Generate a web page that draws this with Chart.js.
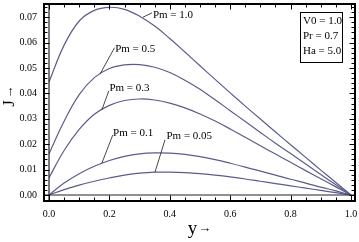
<!DOCTYPE html>
<html>
<head>
<meta charset="utf-8">
<script src="https://cdn.jsdelivr.net/npm/chart.js@4/dist/chart.umd.min.js"></script>
<style>
html,body{margin:0;padding:0;background:#fff;}
#wrap{width:359px;height:242px;}
</style>
</head>
<body>
<div id="wrap"><canvas id="c" width="359" height="242"></canvas></div>
<script>
// ---- data ----
const yPos = [0,0.05,0.1,0.15,0.2,0.25,0.3,0.35,0.4,0.45,0.5,0.55,0.6,0.65,0.7,0.75,0.8,0.85,0.9,0.95,1.0];
const J_Pm10  = [0.0445,0.0590,0.0685,0.0727,0.0739,0.0731,0.0704,0.0665,0.0616,0.0563,0.0509,0.0455,0.0402,0.0350,0.0299,0.0248,0.0198,0.0148,0.0098,0.0049,0];
const J_Pm05  = [0.0162,0.0290,0.0395,0.0462,0.0498,0.0512,0.0513,0.0503,0.0482,0.0452,0.0416,0.0375,0.0332,0.0289,0.0246,0.0204,0.0163,0.0122,0.0081,0.0040,0];
const J_Pm03  = [0.0068,0.0175,0.0258,0.0318,0.0353,0.0372,0.0378,0.0374,0.0362,0.0343,0.0319,0.0291,0.0260,0.0227,0.0194,0.0161,0.0129,0.0096,0.0064,0.0032,0];
const J_Pm01  = [0,0.0047,0.0084,0.0113,0.0136,0.0152,0.0162,0.0166,0.0165,0.0160,0.0151,0.0139,0.0125,0.0110,0.0094,0.0078,0.0062,0.0047,0.0031,0.0016,0];
const J_Pm005 = [0,0.0021,0.0039,0.0054,0.0067,0.0078,0.0086,0.0090,0.0090,0.0088,0.0084,0.0078,0.0071,0.0063,0.0054,0.0045,0.0036,0.0027,0.0018,0.0009,0];
const seriesNames = ["Pm = 1.0","Pm = 0.5","Pm = 0.3","Pm = 0.1","Pm = 0.05"];
const xTickLabels = [0,0.2,0.4,0.6,0.8,1.0];
const yTickLabels = [0,0.01,0.02,0.03,0.04,0.05,0.06,0.07];
// curve-label leader lines (data coordinates)
const leaderFromX = [0.311,0.169,0.175,0.175,0.351];
const leaderFromY = [0.0700,0.0476,0.0335,0.0125,0.0090];
const leaderToX   = [0.341,0.217,0.198,0.211,0.384];
const leaderToY   = [0.0717,0.0580,0.0410,0.0236,0.0217];
const labelX      = [0.344,0.219,0.200,0.212,0.389];
const labelY      = [0.0710,0.0575,0.0420,0.0244,0.0230];
const paramLines  = ["V0 = 1.0","Pr = 0.7","Ha = 5.0"];

const curveColor = 'rgb(92,92,140)';
const serif = "'Liberation Serif','DejaVu Serif',serif";
const allSeries = [J_Pm10,J_Pm05,J_Pm03,J_Pm01,J_Pm005];

function noPad(s){ s.paddingTop = 0; s.paddingBottom = 0; s.paddingLeft = 0; s.paddingRight = 0; }

const decor = {
  id:'decor',
  afterDatasetsDraw(chart){
    const {ctx, chartArea:a, scales:{x,y}} = chart;
    ctx.save();
    // axes through origin
    ctx.strokeStyle = '#222';
    ctx.lineWidth = 1.2;
    const x0 = x.getPixelForValue(0), y0 = y.getPixelForValue(0);
    ctx.beginPath();
    ctx.moveTo(x0, a.top); ctx.lineTo(x0, a.bottom);
    ctx.moveTo(a.left, y0); ctx.lineTo(a.right, y0);
    ctx.stroke();
    // frame
    ctx.strokeStyle = '#000';
    ctx.lineWidth = 2;
    ctx.strokeRect(a.left+1, a.top+1, a.right-a.left-2, a.bottom-a.top-2);
    // frame ticks
    ctx.lineWidth = 1;
    ctx.beginPath();
    for (let i=0;i<=20;i++){
      const v = i*0.05, px = Math.round(x.getPixelForValue(v))+0.5;
      const len = (i%4===0)?4.5:2.5;
      ctx.moveTo(px, a.bottom-2); ctx.lineTo(px, a.bottom-2-len);
      ctx.moveTo(px, a.top+2); ctx.lineTo(px, a.top+2+len);
    }
    for (let i=0;i<=37;i++){
      const v = i*0.002, py = Math.round(y.getPixelForValue(v))+0.5;
      const len = (i%5===0)?4.5:2.5;
      ctx.moveTo(a.left+2, py); ctx.lineTo(a.left+2+len, py);
      ctx.moveTo(a.right-2, py); ctx.lineTo(a.right-2-len, py);
    }
    ctx.stroke();
    // curve labels
    ctx.strokeStyle = '#333';
    ctx.lineWidth = 0.9;
    ctx.fillStyle = '#000';
    ctx.font = '11px ' + serif;
    ctx.textAlign = 'left';
    ctx.textBaseline = 'middle';
    for (let i=0;i<seriesNames.length;i++){
      ctx.beginPath();
      ctx.moveTo(x.getPixelForValue(leaderFromX[i]), y.getPixelForValue(leaderFromY[i]));
      ctx.lineTo(x.getPixelForValue(leaderToX[i]), y.getPixelForValue(leaderToY[i]));
      ctx.stroke();
      ctx.fillText(seriesNames[i], x.getPixelForValue(labelX[i]), y.getPixelForValue(labelY[i]));
    }
    // parameter box
    const bx = a.right-56, by = a.top+9;
    ctx.strokeStyle = '#000';
    ctx.lineWidth = 1;
    ctx.strokeRect(bx+0.5, by+0.5, 42, 50);
    paramLines.forEach((t,i)=>ctx.fillText(t, bx+3, by+9.5+i*15));
    // axis titles
    const cx = (a.left+a.right)/2;
    ctx.textBaseline = 'alphabetic';
    ctx.font = '19px ' + serif;
    const wy = ctx.measureText('y').width;
    ctx.font = '13px ' + serif;
    const wa = ctx.measureText('→').width;
    let sx = cx - (wy+wa+1)/2;
    ctx.font = '19px ' + serif;
    ctx.fillText('y', sx, 234);
    ctx.font = '13px ' + serif;
    ctx.fillText('→', sx+wy+1, 232);
    ctx.translate(14, 96);
    ctx.rotate(-Math.PI/2);
    ctx.font = '16px ' + serif;
    const wj = ctx.measureText('J').width;
    ctx.font = '13px ' + serif;
    const wa2 = ctx.measureText('→').width;
    sx = -(wj+wa2+2)/2;
    ctx.font = '16px ' + serif;
    ctx.fillText('J', sx, 0);
    ctx.font = '13px ' + serif;
    ctx.fillText('→', sx+wj+2, -1);
    ctx.restore();
  }
};

new Chart(document.getElementById('c'), {
  type:'line',
  data:{
    datasets: allSeries.map((arr,k)=>({
      label: seriesNames[k],
      data: yPos.map((v,i)=>({x:v, y:arr[i]})),
      borderColor: curveColor,
      borderWidth: 1.2,
      pointRadius: 0,
      fill: false,
      tension: 0.4
    }))
  },
  options:{
    responsive:false,
    animation:false,
    devicePixelRatio:1,
    layout:{padding:{top:3,right:3,left:0,bottom:0}},
    plugins:{legend:{display:false},tooltip:{enabled:false}},
    scales:{
      x:{
        type:'linear',
        min:-0.0199, max:1.0166,
        grid:{display:false, drawTicks:false},
        border:{display:false},
        afterBuildTicks(s){ s.ticks = xTickLabels.map(v=>({value:v})); },
        afterFit(s){ s.height = 40; noPad(s); },
        ticks:{color:'#000', font:{size:10, family:serif}, padding:6, maxRotation:0,
          callback:v=>Number(v).toFixed(1)}
      },
      y:{
        min:-0.00276, max:0.07559,
        grid:{display:false, drawTicks:false},
        border:{display:false},
        afterBuildTicks(s){ s.ticks = yTickLabels.map(v=>({value:v})); },
        afterFit(s){ s.width = 43; noPad(s); },
        ticks:{color:'#000', font:{size:10, family:serif}, padding:6,
          callback:v=>Number(v).toFixed(2)}
      }
    }
  },
  plugins:[decor]
});
</script>
</body>
</html>
